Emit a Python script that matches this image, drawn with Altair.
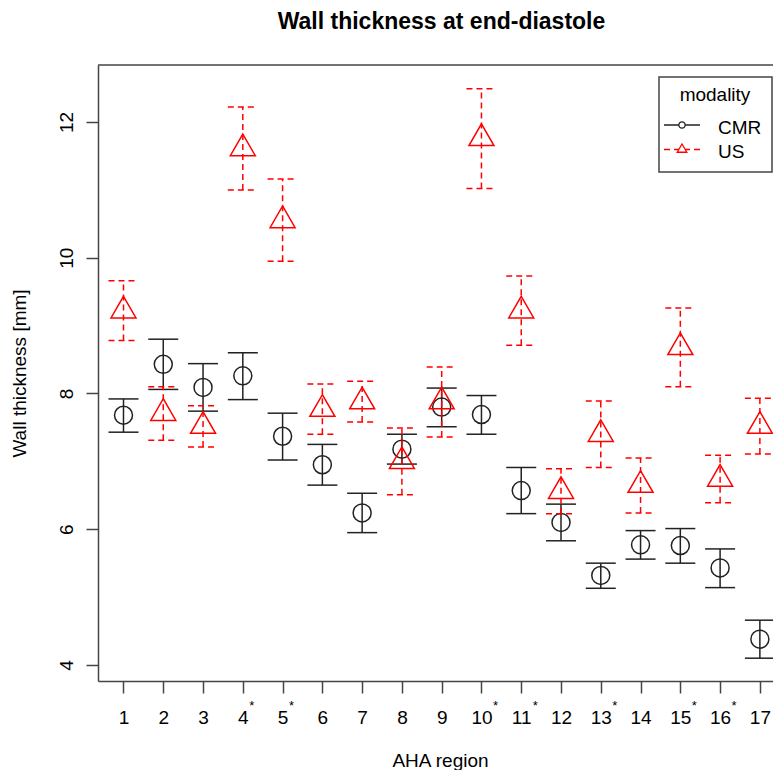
import altair as alt
import pandas as pd

# ---------------- data ----------------
regions = list(range(1, 18))
starred = [4, 5, 10, 11, 13, 15, 16]
modalities = ["CMR", "US"]

cmr_mean = [7.68, 8.43, 8.09, 8.26, 7.37, 6.95, 6.24, 7.18, 7.80, 7.69, 6.57, 6.10, 5.32, 5.77, 5.76, 5.43, 4.38]
cmr_lo   = [7.43, 8.06, 7.74, 7.91, 7.02, 6.65, 5.95, 6.96, 7.51, 7.40, 6.23, 5.83, 5.13, 5.56, 5.50, 5.14, 4.10]
cmr_hi   = [7.92, 8.80, 8.44, 8.60, 7.71, 7.25, 6.53, 7.40, 8.08, 7.97, 6.91, 6.37, 5.50, 5.98, 6.01, 5.71, 4.66]

us_mean = [9.22, 7.71, 7.52, 11.61, 10.55, 7.77, 7.88, 7.00, 7.88, 11.76, 9.22, 6.56, 7.40, 6.65, 8.68, 6.74, 7.52]
us_lo   = [8.78, 7.31, 7.21, 11.00, 9.95, 7.40, 7.58, 6.51, 7.36, 11.02, 8.71, 6.23, 6.91, 6.24, 8.10, 6.39, 7.11]
us_hi   = [9.66, 8.10, 7.82, 12.22, 11.16, 8.14, 8.18, 7.49, 8.39, 12.49, 9.73, 6.89, 7.89, 7.05, 9.26, 7.09, 7.93]

y_ticks = [4, 6, 8, 10, 12]
title_text = "Wall thickness at end-diastole"

# ---------------- tables ----------------
df = pd.concat([
    pd.DataFrame({"region": regions, "modality": "CMR", "mean": cmr_mean, "lo": cmr_lo, "hi": cmr_hi}),
    pd.DataFrame({"region": regions, "modality": "US", "mean": us_mean, "lo": us_lo, "hi": us_hi}),
], ignore_index=True)
stars = pd.DataFrame({"region": starred})
legend_df = pd.DataFrame({"modality": modalities})
one = pd.DataFrame({"k": [0]})

# ---------------- styling ----------------
FONT = "Liberation Sans"
W, H = 675, 616
FRAME = "#444444"
CMR_COL = "#222222"
US_COL = "#ff0000"
DASH = [6, 4]
TRI = "M0,-1L0.866,0.5L-0.866,0.5Z"

xscale = alt.Scale(domain=[0.359, 17.33], nice=False, zero=False)
yscale = alt.Scale(domain=[3.764, 12.84], nice=False, zero=False)

xaxis = alt.Axis(values=regions, format="d", grid=False,
                 tickSize=12, tickWidth=1.5, tickColor=FRAME,
                 domainColor=FRAME, domainWidth=1.5,
                 labelFont=FONT, labelFontSize=19, labelColor="black",
                 labelPadding=15, labelFlush=False, labelOverlap=False,
                 title="AHA region", titleFont=FONT, titleFontSize=19,
                 titleFontWeight="normal", titleColor="black",
                 titleX=342, titleY=85, titleAlign="center", titleBaseline="alphabetic")
yaxis = alt.Axis(values=y_ticks, format="d", grid=False,
                 tickSize=12, tickWidth=1.5, tickColor=FRAME,
                 domainColor=FRAME, domainWidth=1.5,
                 labelFont=FONT, labelFontSize=19, labelColor="black",
                 labelAngle=270, labelAlign="center", labelBaseline="alphabetic",
                 labelPadding=14, labelFlush=False, labelOverlap=False,
                 title="Wall thickness [mm]", titleFont=FONT, titleFontSize=19,
                 titleFontWeight="normal", titleColor="black", titleAngle=270,
                 titleX=-73, titleY=308, titleAlign="center", titleBaseline="alphabetic")

X = alt.X("region:Q", scale=xscale, axis=xaxis)
Y = alt.Y("mean:Q", scale=yscale, axis=yaxis)


def series(name, color, dash, shape, size):
    base = alt.Chart(df).transform_filter(alt.datum.modality == name)
    kw = dict(color=color, strokeWidth=1.5)
    if dash:
        kw["strokeDash"] = dash
    vbar = base.mark_rule(**kw).encode(x=X, y=alt.Y("lo:Q", scale=yscale, axis=yaxis), y2="hi:Q")
    cap_hi = base.mark_rule(xOffset=-15, x2Offset=15, **kw).encode(
        x=X, x2="region:Q", y=alt.Y("hi:Q", scale=yscale, axis=yaxis))
    cap_lo = base.mark_rule(xOffset=-15, x2Offset=15, **kw).encode(
        x=X, x2="region:Q", y=alt.Y("lo:Q", scale=yscale, axis=yaxis))
    pts = base.mark_point(shape=shape, size=size, filled=False, stroke=color,
                          strokeWidth=1.5, opacity=1).encode(x=X, y=Y)
    return [vbar, cap_hi, cap_lo, pts]


layers = []
layers += series("CMR", CMR_COL, None, "circle", 324)
layers += series("US", US_COL, DASH, TRI, 833)

# superscript asterisks on significant regions
star_1 = alt.Chart(stars).transform_filter(alt.datum.region < 10).mark_text(
    text="*", font=FONT, fontSize=13, color="black", dx=9, baseline="alphabetic"
).encode(x=X, y=alt.value(645))
star_2 = alt.Chart(stars).transform_filter(alt.datum.region >= 10).mark_text(
    text="*", font=FONT, fontSize=13, color="black", dx=14, baseline="alphabetic"
).encode(x=X, y=alt.value(645))
layers += [star_1, star_2]

# top frame line
top = alt.Chart(one).mark_rule(color=FRAME, strokeWidth=1.5).encode(
    x=alt.value(0), x2=alt.value(W), y=alt.value(0))
layers.append(top)

# chart title (drawn as text above the plot frame)
title = alt.Chart(one).mark_text(text=title_text, font=FONT, fontSize=23, fontWeight="bold",
                                 color="black", align="center", baseline="alphabetic").encode(
    x=alt.value(W / 2 + 6), y=alt.value(-36))
layers.append(title)

# legend box
lg_box = alt.Chart(one).mark_rect(fill="white", stroke=FRAME, strokeWidth=1.5).encode(
    x=alt.value(561), x2=alt.value(674), y=alt.value(12), y2=alt.value(107))
lg_title = alt.Chart(one).mark_text(text="modality", font=FONT, fontSize=19, color="black",
                                    align="center", baseline="alphabetic").encode(
    x=alt.value(617), y=alt.value(36))
layers += [lg_box, lg_title]

leg_rows = [("CMR", CMR_COL, None, "circle", 40, 60, 68.5),
            ("US", US_COL, DASH, TRI, 121, 84.5, 92.5)]
for name, col, dash, shape, size, ly, ty in leg_rows:
    src = alt.Chart(legend_df).transform_filter(alt.datum.modality == name)
    kw = dict(color=col, strokeWidth=1.5)
    if dash:
        kw["strokeDash"] = dash
    layers.append(src.mark_rule(**kw).encode(x=alt.value(566), x2=alt.value(602), y=alt.value(ly)))
    layers.append(src.mark_point(shape=shape, size=size, filled=True, fill="white", stroke=col,
                                 strokeWidth=1.3, opacity=1).encode(x=alt.value(584), y=alt.value(ly)))
    layers.append(src.mark_text(font=FONT, fontSize=19, color="black", align="left",
                                baseline="alphabetic").encode(
        x=alt.value(620), y=alt.value(ty), text="modality:N"))

chart = alt.layer(*layers).properties(
    width=W, height=H,
    autosize=alt.AutoSizeParams(type="none"),
    padding={"left": 90, "top": 57, "right": 0, "bottom": 89},
).configure_view(stroke="transparent")

chart.save("out.html", embed_options={"renderer": "svg", "actions": False})
